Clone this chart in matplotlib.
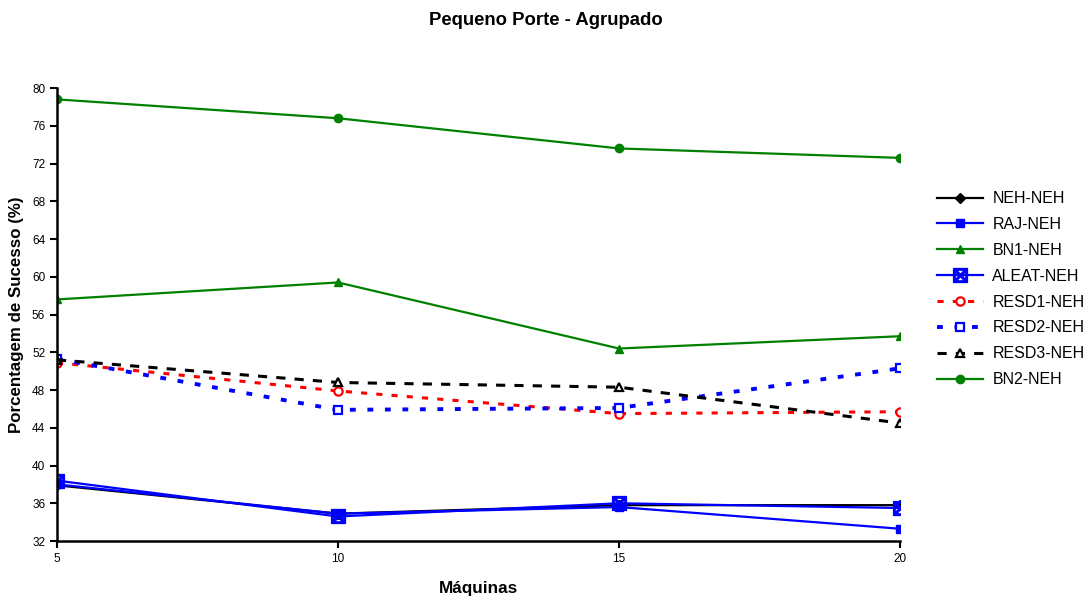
import numpy as np
import matplotlib.pyplot as plt

plt.rcParams['font.family'] = ['Liberation Sans', 'DejaVu Sans']

maquinas = [5, 10, 15, 20]

neh_neh = [37.9, 34.9, 35.8, 35.8]
raj_neh = [38.0, 34.9, 35.6, 33.3]
bn1_neh = [57.6, 59.4, 52.4, 53.7]
aleat_neh = [38.4, 34.6, 36.0, 35.5]
resd1_neh = [50.9, 47.9, 45.5, 45.7]
resd2_neh = [51.3, 45.9, 46.1, 50.3]
resd3_neh = [51.2, 48.8, 48.3, 44.5]
bn2_neh = [78.8, 76.8, 73.6, 72.6]

fig = plt.figure(figsize=(10.92, 5.99), dpi=100)
ax = fig.add_axes([0.0522, 0.0968, 0.772, 0.7562])

ax.plot(maquinas, neh_neh, color='black', lw=1.6, marker='D', ms=5, label='NEH-NEH')
ax.plot(maquinas, raj_neh, color='blue', lw=1.6, marker='s', ms=6, label='RAJ-NEH')
ax.plot(maquinas, bn1_neh, color='green', lw=1.6, marker='^', ms=6, label='BN1-NEH')
ax.plot(maquinas, aleat_neh, color='blue', lw=1.6, marker='$\\boxtimes$', ms=10, label='ALEAT-NEH')
ax.plot(maquinas, resd1_neh, color='red', lw=2.2, ls=(0, (2, 3)), marker='o', ms=6,
        mfc='white', mew=1.6, label='RESD1-NEH')
ax.plot(maquinas, resd2_neh, color='blue', lw=2.8, ls=(0, (1.5, 3)), marker='s', ms=6,
        mfc='white', mew=1.6, label='RESD2-NEH')
ax.plot(maquinas, resd3_neh, color='black', lw=2.2, ls=(0, (3, 3)), marker='^', ms=6,
        mfc='white', mew=1.6, label='RESD3-NEH')
ax.plot(maquinas, bn2_neh, color='green', lw=1.6, marker='o', ms=6, label='BN2-NEH')

ax.set_xlim(5, 20)
ax.set_ylim(32, 80)
ax.set_xticks(maquinas)
ax.set_yticks(np.arange(32, 81, 4))
ax.tick_params(labelsize=8.5, width=1.5, length=5)
for side in ['top', 'right']:
    ax.spines[side].set_visible(False)
for side in ['left', 'bottom']:
    ax.spines[side].set_linewidth(1.8)

ax.set_xlabel('Máquinas', fontsize=12.3, fontweight='bold', labelpad=12)
ax.set_ylabel('Porcentagem de Sucesso (%)', fontsize=12.2, fontweight='bold', labelpad=6)
fig.text(0.5, 0.965, 'Pequeno Porte - Agrupado', ha='center', va='center',
         fontsize=13.3, fontweight='bold')

ax.legend(loc='center left', bbox_to_anchor=(1.027, 0.556), frameon=False, fontsize=11.5,
          handlelength=2.9, labelspacing=0.68, handletextpad=0.55)

fig.savefig('out.png', dpi=100)
